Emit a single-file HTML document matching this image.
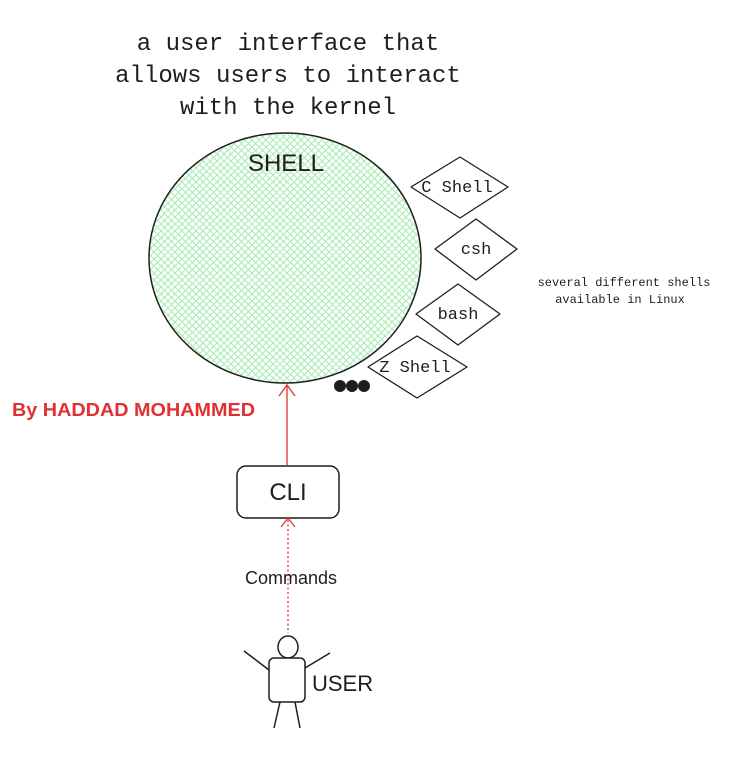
<!DOCTYPE html>
<html><head><meta charset="utf-8"><style>
html,body{margin:0;padding:0;background:#fff;}
svg{display:block;}
.m{font-family:"Liberation Mono",monospace;}
.s{font-family:"Liberation Sans",sans-serif;}
</style></head><body>
<svg width="748" height="763" viewBox="0 0 748 763" xmlns="http://www.w3.org/2000/svg">
<defs>
<pattern id="h" width="7" height="7" patternUnits="userSpaceOnUse">
<path d="M0 0L7 7M7 0L0 7" stroke="#a6ecb2" stroke-width="1"/>
</pattern>
</defs>
<text class="m" x="288" y="50" font-size="24" text-anchor="middle" fill="#1e1e1e">a user interface that</text>
<text class="m" x="288" y="82" font-size="24" text-anchor="middle" fill="#1e1e1e">allows users to interact</text>
<text class="m" x="288" y="114" font-size="24" text-anchor="middle" fill="#1e1e1e">with the kernel</text>
<ellipse cx="285" cy="258" rx="136" ry="125" fill="url(#h)" stroke="#1e1e1e" stroke-width="1.5"/>
<text class="s" x="286" y="171" font-size="24" text-anchor="middle" fill="#1e1e1e">SHELL</text>
<g fill="#fff" stroke="#1e1e1e" stroke-width="1.3" stroke-linejoin="round">
<path d="M460 157L508 187L460 218L411 187Z"/>
<path d="M476 219L517 249L476 280L435 249Z"/>
<path d="M458 284L500 314L458 345L416 314Z"/>
<path d="M417 336L467 367L417 398L368 367Z"/>
</g>
<g class="m" font-size="17" text-anchor="middle" fill="#1e1e1e">
<text x="457" y="192">C Shell</text>
<text x="476" y="254">csh</text>
<text x="458" y="319">bash</text>
<text x="415" y="372">Z Shell</text>
</g>
<text class="m" x="624" y="286" font-size="12" text-anchor="middle" fill="#1e1e1e">several different shells</text>
<text class="m" x="620" y="303" font-size="12" text-anchor="middle" fill="#1e1e1e">available in Linux</text>
<circle cx="340" cy="386" r="6" fill="#1e1e1e"/>
<circle cx="352" cy="386" r="6" fill="#1e1e1e"/>
<circle cx="364" cy="386" r="6" fill="#1e1e1e"/>
<text class="s" x="12" y="416" font-size="18" font-weight="bold" fill="#e03131" textLength="243" lengthAdjust="spacingAndGlyphs">By HADDAD MOHAMMED</text>
<line x1="287" y1="385" x2="287" y2="465" stroke="#e03131" stroke-width="1.3"/>
<path d="M279 396L287 385L295 396" fill="none" stroke="#e03131" stroke-width="1.3"/>
<rect x="237" y="466" width="102" height="52" rx="9" fill="#fff" stroke="#1e1e1e" stroke-width="1.5"/>
<text class="s" x="288" y="500" font-size="24" text-anchor="middle" fill="#1e1e1e">CLI</text>
<line x1="288" y1="520" x2="288" y2="633" stroke="#e03131" stroke-width="1.3" stroke-dasharray="2 2.5"/>
<path d="M281 527L288 518L295 527" fill="none" stroke="#e03131" stroke-width="1.3"/>
<text class="s" x="291" y="584" font-size="18" text-anchor="middle" fill="#1e1e1e">Commands</text>
<g fill="#fff" stroke="#1e1e1e" stroke-width="1.5">
<ellipse cx="288" cy="647" rx="10" ry="11"/>
<rect x="269" y="658" width="36" height="44" rx="5"/>
<line x1="244" y1="651" x2="269" y2="670"/>
<line x1="330" y1="653" x2="305" y2="668"/>
<line x1="280" y1="702" x2="274" y2="728"/>
<line x1="295" y1="702" x2="300" y2="728"/>
</g>
<text class="s" x="312" y="691" font-size="22" fill="#1e1e1e">USER</text>
</svg>
</body></html>
